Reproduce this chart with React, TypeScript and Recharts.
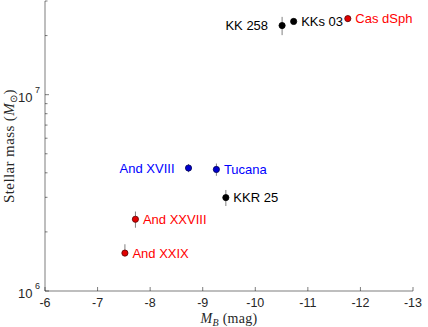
import { ScatterChart, Scatter, XAxis, YAxis, ErrorBar } from "recharts";

// M_B vs stellar mass for a handful of dwarf galaxies
const galaxies = ["KK 258", "KKs 03", "Cas dSph", "And XVIII", "Tucana", "KKR 25", "And XXVIII", "And XXIX"];
const absMagB = [-10.51, -10.73, -11.76, -8.73, -9.26, -9.44, -7.72, -7.52];
const stellarMass = [2.25e7, 2.36e7, 2.44e7, 4.23e6, 4.16e6, 2.99e6, 2.32e6, 1.56e6];
const massErrLow = [0.24e7, 0.06e7, 0.09e7, 0.2e6, 0.3e6, 0.28e6, 0.22e6, 0.04e6];
const massErrHigh = [0.24e7, 0.06e7, 0.09e7, 0.2e6, 0.3e6, 0.28e6, 0.22e6, 0.17e6];
const sampleGroup = [0, 0, 1, 2, 2, 0, 1, 1];

const xTicks = [-13, -12, -11, -10, -9, -8, -7, -6];
const yMajorTicks = [1e6, 1e7];
const yMinorTicks = [2e6, 3e6, 4e6, 5e6, 6e6, 7e6, 8e6, 9e6, 2e7, 3e7];

const rows = galaxies.map((name, i) => ({
  name,
  mb: absMagB[i],
  mass: stellarMass[i],
  err: [massErrLow[i], massErrHigh[i]],
  group: sampleGroup[i],
}));

const AXIS = "#262626";
const SANS = "'Liberation Sans', Arial, sans-serif";
const SERIF = "'Liberation Serif', 'Times New Roman', serif";
const leftLabeled = ["KK 258", "And XVIII"];

const groupStyle = [
  { fill: "#000000", stroke: "#000000", text: "#000000" },
  { fill: "#e00000", stroke: "#5a0000", text: "#ff0000" },
  { fill: "#0000d0", stroke: "#000050", text: "#0000ff" },
];

function makeTick(side: string) {
  return (props: any) => {
    const { x, y, payload } = props;
    const v = payload.value;
    const isY = side === "left" || side === "right";
    const major = isY ? yMajorTicks.includes(v) : true;
    const len = major ? 4 : 2.5;
    let line;
    if (side === "bottom") line = <line x1={x} y1={y} x2={x} y2={y - len} stroke={AXIS} strokeWidth={0.6} />;
    else if (side === "top") line = <line x1={x} y1={y} x2={x} y2={y + len} stroke={AXIS} strokeWidth={0.6} />;
    else if (side === "left") line = <line x1={x} y1={y} x2={x + len} y2={y} stroke={AXIS} strokeWidth={0.6} />;
    else line = <line x1={x} y1={y} x2={x - len} y2={y} stroke={AXIS} strokeWidth={0.6} />;

    let label = null;
    if (side === "bottom") {
      label = (
        <text x={x} y={y + 16} textAnchor="middle" fontSize={12.5} fontFamily={SANS} fill={AXIS}>
          {v}
        </text>
      );
    } else if (side === "left" && major) {
      const exp = Math.round(Math.log10(v));
      label = (
        <g>
          <text x={x - 12.5} y={y + 7} textAnchor="end" fontSize={13} fontFamily={SANS} fill={AXIS}>
            10
          </text>
          <text x={x - 10} y={y - 2} textAnchor="start" fontSize={9} fontFamily={SANS} fill={AXIS}>
            {exp}
          </text>
        </g>
      );
    }
    return (
      <g>
        {line}
        {label}
      </g>
    );
  };
}

const xLabel = (props: any) => {
  const { x, y, width } = props.viewBox;
  return (
    <text x={x + width / 2} y={y + 32} textAnchor="middle" fontFamily={SERIF} fontSize={14} letterSpacing={0.3} fill={AXIS}>
      <tspan fontStyle="italic">M</tspan>
      <tspan fontStyle="italic" fontSize={10} dy={3}>B</tspan>
      <tspan dy={-3}>{"\u00a0(mag)"}</tspan>
    </text>
  );
};

const yLabel = (props: any) => {
  const { y, height } = props.viewBox;
  const cx = 14;
  const cy = y + height / 2;
  return (
    <text
      x={cx}
      y={cy}
      transform={`rotate(-90, ${cx}, ${cy})`}
      textAnchor="middle"
      fontFamily={SERIF}
      fontSize={15}
      letterSpacing={0.4}
      fill={AXIS}
    >
      <tspan>{"Stellar mass ("}</tspan>
      <tspan fontStyle="italic">M</tspan>
      <tspan fontSize={10} dy={3}>{"\u2299"}</tspan>
      <tspan dy={-3}>)</tspan>
    </text>
  );
};

function makeShape(group: number) {
  const st = groupStyle[group];
  return (props: any) => {
    const { cx, cy, payload } = props;
    const left = leftLabeled.includes(payload.name);
    return (
      <g>
        <circle cx={cx} cy={cy} r={3.1} fill={st.fill} stroke={st.stroke} strokeWidth={0.8} />
        <text
          x={left ? cx - 14 : cx + 7.5}
          y={cy}
          dy="0.36em"
          textAnchor={left ? "end" : "start"}
          fontSize={13}
          fontFamily={SANS}
          fill={st.text}
        >
          {payload.name}
        </text>
      </g>
    );
  };
}

export default function App() {
  return (
    <div style={{ position: "absolute", left: 0, top: 0, background: "#fff" }}>
      <ScatterChart width={428} height={327} margin={{ top: 1, right: 15, bottom: 0, left: 0 }}>
        <XAxis
          dataKey="mb"
          type="number"
          domain={[-13, -6]}
          reversed
          ticks={xTicks}
          interval={0}
          height={36}
          tickSize={0}
          tickMargin={0}
          tick={makeTick("bottom")}
          axisLine={{ stroke: AXIS, strokeWidth: 0.6 }}
          label={xLabel}
        />
        <XAxis
          xAxisId="top"
          orientation="top"
          type="number"
          domain={[-13, -6]}
          reversed
          ticks={xTicks}
          interval={0}
          height={0}
          tickSize={0}
          tickMargin={0}
          tick={makeTick("top")}
          axisLine={{ stroke: AXIS, strokeWidth: 0.6 }}
        />
        <YAxis
          dataKey="mass"
          type="number"
          scale="log"
          domain={[1e6, 3e7]}
          ticks={[...yMajorTicks, ...yMinorTicks]}
          interval={0}
          width={45}
          tickSize={0}
          tickMargin={0}
          tick={makeTick("left")}
          axisLine={{ stroke: AXIS, strokeWidth: 0.6 }}
          label={yLabel}
        />
        <YAxis
          yAxisId="right"
          orientation="right"
          type="number"
          scale="log"
          domain={[1e6, 3e7]}
          ticks={[...yMajorTicks, ...yMinorTicks]}
          interval={0}
          width={0}
          tickSize={0}
          tickMargin={0}
          tick={makeTick("right")}
          axisLine={{ stroke: AXIS, strokeWidth: 0.6 }}
        />
        {[0, 1, 2].map((g) => (
          <Scatter
            key={g}
            data={rows.filter((r) => r.group === g)}
            shape={makeShape(g)}
            isAnimationActive={false}
          >
            <ErrorBar dataKey="err" direction="y" width={0} stroke="#808080" strokeWidth={1} />
          </Scatter>
        ))}
      </ScatterChart>
    </div>
  );
}
